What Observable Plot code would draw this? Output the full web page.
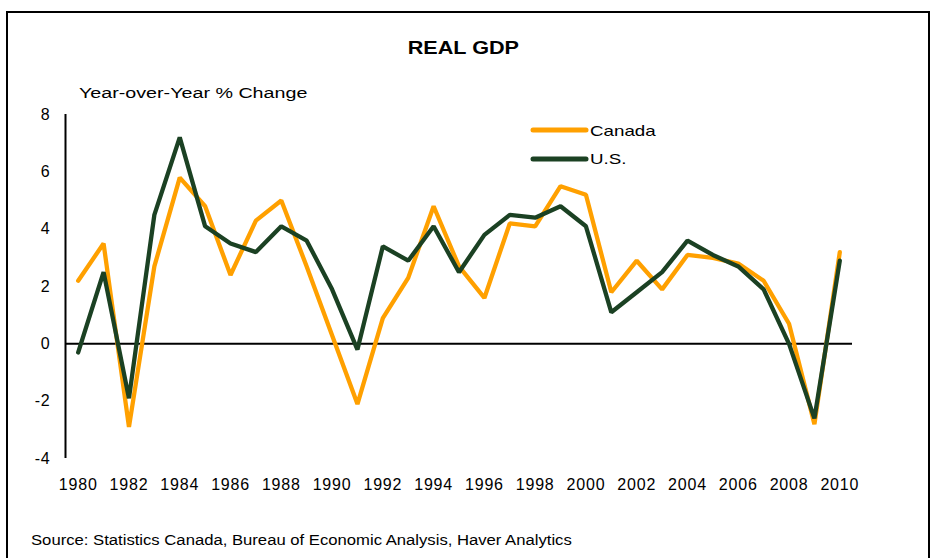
<!DOCTYPE html>
<html>
<head>
<meta charset="utf-8">
<script src="https://cdn.jsdelivr.net/npm/d3@7"></script>
<script src="https://cdn.jsdelivr.net/npm/@observablehq/plot@0.6"></script>
<style>
  body { margin: 0; background: #fff; }
  #wrap { position: relative; width: 934px; height: 558px; overflow: hidden; background: #fff;
          font-family: "Liberation Sans", Arial, sans-serif; color: #000; }
  #chart { position: absolute; left: 0; top: 0; }
  #chart svg text { letter-spacing: 0.8px; }
  #frame { position: absolute; left: 6px; top: 11px; width: 920px; height: 600px; border: 2px solid #000; pointer-events: none; }
  .t { position: absolute; white-space: nowrap; line-height: 1; }
  .t span { display: inline-block; }
  #title { left: 0; width: 926px; top: 39px; text-align: center; font-weight: bold; font-size: 18px; }
  #title span { transform: scaleX(1.2); transform-origin: center; }
  #subtitle { left: 79px; top: 85px; font-size: 15.5px; }
  #subtitle span { transform: scaleX(1.27); transform-origin: left; }
  #source { left: 31px; top: 533px; font-size: 14px; }
  #source span { transform: scaleX(1.19); transform-origin: left; }
  .leg { position: absolute; left: 530px; height: 20px; }
  .leg svg { position: absolute; left: 0; top: 0; }
  .leg .lab { position: absolute; left: 60px; top: 2.5px; font-size: 15px; line-height: 1; white-space: nowrap; }
  .leg .lab span { display: inline-block; transform: scaleX(1.25); transform-origin: left; }
</style>
</head>
<body>
<div id="wrap">
  <div id="chart"></div>
  <div id="title" class="t"><span>REAL GDP</span></div>
  <div id="subtitle" class="t"><span>Year-over-Year % Change</span></div>
  <div id="legend"></div>
  <div id="source" class="t"><span>Source: Statistics Canada, Bureau of Economic Analysis, Haver Analytics</span></div>
  <div id="frame"></div>
</div>
<script>
const years = [1980,1981,1982,1983,1984,1985,1986,1987,1988,1989,1990,1991,1992,1993,1994,1995,
               1996,1997,1998,1999,2000,2001,2002,2003,2004,2005,2006,2007,2008,2009,2010];
const canada = [2.2,3.5,-2.9,2.7,5.8,4.8,2.4,4.3,5.0,2.7,0.3,-2.1,0.9,2.3,4.8,2.7,
                1.6,4.2,4.1,5.5,5.2,1.8,2.9,1.9,3.1,3.0,2.8,2.2,0.7,-2.8,3.2];
const us = [-0.3,2.5,-1.9,4.5,7.2,4.1,3.5,3.2,4.1,3.6,1.9,-0.2,3.4,2.9,4.1,2.5,
            3.8,4.5,4.4,4.8,4.1,1.1,1.8,2.5,3.6,3.1,2.7,1.9,0.0,-2.6,2.9];
const seriesNames = ["Canada", "U.S."];
const seriesColors = ["#FFA000", "#1B4123"];
const xTicks = [1980,1982,1984,1986,1988,1990,1992,1994,1996,1998,2000,2002,2004,2006,2008,2010];
const yTicks = [-4,-2,0,2,4,6,8];

const data = [];
years.forEach((yr, i) => {
  data.push({year: yr, value: canada[i], series: seriesNames[0]});
});
years.forEach((yr, i) => {
  data.push({year: yr, value: us[i], series: seriesNames[1]});
});

const chart = Plot.plot({
  width: 934,
  height: 558,
  marginLeft: 65,
  marginRight: 82,
  marginTop: 114,
  marginBottom: 100,
  style: {background: "transparent", fontFamily: "Liberation Sans, Arial, sans-serif", fontSize: "16px", color: "#000", overflow: "visible"},
  x: {domain: [1979.5, 2010.5]},
  y: {domain: [-4, 8]},
  color: {domain: seriesNames, range: seriesColors},
  marks: [
    Plot.axisX({ticks: xTicks, tickSize: 0, tickPadding: 20, tickFormat: d => String(d), label: null, fill: "#000"}),
    Plot.axisY({ticks: yTicks, tickSize: 0, tickPadding: 15, tickFormat: d => String(d), label: null, fill: "#000"}),
    Plot.ruleY([0], {x1: 1979.5, x2: 2010.5, stroke: "#000", strokeWidth: 2}),
    Plot.ruleX([1979.5], {y1: -4, y2: 8, stroke: "#000", strokeWidth: 2}),
    Plot.line(data, {x: "year", y: "value", z: "series", stroke: "series", strokeWidth: 4.3,
                     strokeLinejoin: "miter", strokeLinecap: "round"})
  ]
});
document.getElementById("chart").appendChild(chart);

// legend
const legend = document.getElementById("legend");
const legTops = [120, 148.5];
seriesNames.forEach((name, i) => {
  const d = document.createElement("div");
  d.className = "leg";
  d.style.top = legTops[i] + "px";
  d.innerHTML = `<svg width="60" height="20"><line x1="3" y1="10" x2="56" y2="10" stroke="${seriesColors[i]}" stroke-width="5" stroke-linecap="round"/></svg><div class="lab"><span>${name}</span></div>`;
  legend.appendChild(d);
});
</script>
</body>
</html>
